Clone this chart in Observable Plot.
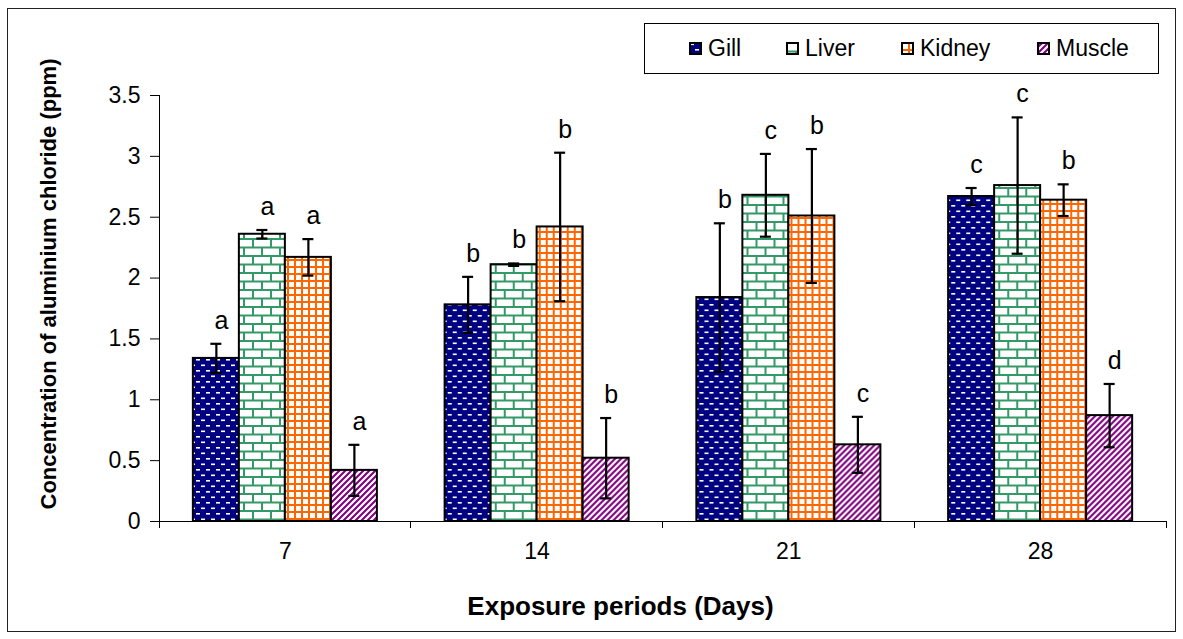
<!DOCTYPE html>
<html>
<head>
<meta charset="utf-8">
<script src="https://cdn.jsdelivr.net/npm/d3@7"></script>
<script src="https://cdn.jsdelivr.net/npm/@observablehq/plot@0.6"></script>
<style>
  body { margin: 0; background: #fff; font-family: Arial, "Liberation Sans", sans-serif; }
  #wrap { position: relative; width: 1183px; height: 639px; overflow: hidden; background: #fff; }
  #wrap svg.chart { position: absolute; left: 0; top: 0; }
  #border { position: absolute; left: 7px; top: 8px; width: 1169px; height: 624px; border: 1px solid #222; box-sizing: border-box; pointer-events: none; }
  #legend { position: absolute; left: 644px; top: 23px; width: 515px; height: 51px; border: 1px solid #000; box-sizing: border-box; background: #fff; }
  .item { position: absolute; top: 0; height: 49px; display: flex; align-items: center; font-size: 23px; color: #000; }
  .item svg { margin-right: 6px; }
</style>
</head>
<body>
<div id="wrap">
  <div id="border"></div>
  <div id="legend"></div>
</div>
<script>
// ---- data ----
const periods = ["7", "14", "21", "28"];
const organs = ["Gill", "Liver", "Kidney", "Muscle"];
const gillValues   = [1.34, 1.78, 1.84, 2.67];
const gillErrors   = [0.12, 0.23, 0.61, 0.07];
const gillLetters  = ["a", "b", "b", "c"];
const liverValues  = [2.36, 2.11, 2.68, 2.76];
const liverErrors  = [0.035, 0.01, 0.34, 0.56];
const liverLetters = ["a", "b", "c", "c"];
const kidneyValues  = [2.17, 2.42, 2.51, 2.64];
const kidneyErrors  = [0.15, 0.61, 0.55, 0.13];
const kidneyLetters = ["a", "b", "b", "b"];
const muscleValues  = [0.42, 0.52, 0.63, 0.87];
const muscleErrors  = [0.21, 0.33, 0.23, 0.26];
const muscleLetters = ["a", "b", "c", "d"];
const yTicks = [0, 0.5, 1, 1.5, 2, 2.5, 3, 3.5];
const yTitle = "Concentration of aluminium chloride (ppm)";
const xTitle = "Exposure periods (Days)";

const valueSets = [gillValues, liverValues, kidneyValues, muscleValues];
const errorSets = [gillErrors, liverErrors, kidneyErrors, muscleErrors];
const letterSets = [gillLetters, liverLetters, kidneyLetters, muscleLetters];

const rows = [];
periods.forEach((p, i) => {
  organs.forEach((o, j) => {
    rows.push({ period: p, organ: o, value: valueSets[j][i], err: errorSets[j][i], letter: letterSets[j][i] });
  });
});

const patternIds = organs.map(o => `url(#pat-${o})`);
const font = "Arial, 'Liberation Sans', sans-serif";

const chart = Plot.plot({
  width: 1183,
  height: 639,
  marginLeft: 159,
  marginRight: 17,
  marginTop: 95,
  marginBottom: 118,
  style: { fontFamily: font, background: "transparent", color: "#000", overflow: "visible" },
  fx: { domain: periods, padding: 0, round: false, label: null },
  x: { domain: organs, paddingInner: 0, paddingOuter: 0.736, round: false, axis: null },
  y: { domain: [0, 3.5], label: null },
  color: { type: "ordinal", domain: organs, range: patternIds },
  marks: [
    Plot.axisY(yTicks, { tickSize: 9, tickPadding: 10, fontSize: 23, tickFormat: d => String(d), label: null, stroke: "#000" }),
    Plot.axisFx({ anchor: "bottom", tickSize: 0, tickPadding: 21, fontSize: 23, label: null }),
    Plot.ruleY([0], { stroke: "#000", strokeWidth: 1 }),
    Plot.barY(rows, { fx: "period", x: "organ", y: "value", fill: "organ", stroke: "#000", strokeWidth: 2, inset: 0 }),
    Plot.ruleX(rows, { fx: "period", x: "organ", y1: d => d.value - d.err, y2: d => d.value + d.err, stroke: "#000", strokeWidth: 2.2 }),
    Plot.tickY(rows, { fx: "period", x: "organ", y: d => d.value + d.err, insetLeft: 17.5, insetRight: 17.5, stroke: "#000", strokeWidth: 2.2 }),
    Plot.tickY(rows, { fx: "period", x: "organ", y: d => d.value - d.err, insetLeft: 17.5, insetRight: 17.5, stroke: "#000", strokeWidth: 2.2 }),
    Plot.text(rows, { fx: "period", x: "organ", y: d => d.value + d.err, text: "letter", dx: 5, dy: -23, lineAnchor: "middle", fontSize: 25, fill: "#000" })
  ]
});
chart.classList.add("chart");
document.getElementById("wrap").insertBefore(chart, document.getElementById("border"));

// ---- patterns ----
const svg = d3.select(chart);
const defs = svg.insert("defs", ":first-child");
const pG = defs.append("pattern").attr("id", "pat-Gill").attr("patternUnits", "userSpaceOnUse").attr("width", 10).attr("height", 11);
pG.append("rect").attr("width", 10).attr("height", 11).attr("fill", "#000080");
pG.append("rect").attr("x", 1).attr("y", 1.5).attr("width", 4).attr("height", 1.6).attr("fill", "#fff");
pG.append("rect").attr("x", 6).attr("y", 7).attr("width", 4).attr("height", 1.6).attr("fill", "#fff");

const pL = defs.append("pattern").attr("id", "pat-Liver").attr("patternUnits", "userSpaceOnUse").attr("width", 18).attr("height", 17);
pL.append("rect").attr("width", 18).attr("height", 17).attr("fill", "#fff");
pL.append("path").attr("d", "M0,1H18M0,9.5H18M1,0V9.5M10,9.5V17").attr("stroke", "#339966").attr("stroke-width", 2).attr("fill", "none");

const pK = defs.append("pattern").attr("id", "pat-Kidney").attr("patternUnits", "userSpaceOnUse").attr("width", 7).attr("height", 7);
pK.append("rect").attr("width", 7).attr("height", 7).attr("fill", "#fff");
pK.append("rect").attr("width", 2).attr("height", 7).attr("fill", "#FF6600");
pK.append("rect").attr("width", 7).attr("height", 2).attr("fill", "#FF6600");

const pM = defs.append("pattern").attr("id", "pat-Muscle").attr("patternUnits", "userSpaceOnUse").attr("width", 6).attr("height", 6);
pM.append("rect").attr("width", 6).attr("height", 6).attr("fill", "#fff");
pM.append("path").attr("d", "M-1.5,1.5L1.5,-1.5M0,6L6,0M4.5,7.5L7.5,4.5").attr("stroke", "#800080").attr("stroke-width", 2.1);

// ---- axis lines & boundary ticks from scales ----
const fxS = chart.scale("fx");
const yS = chart.scale("y");
const y0 = yS.apply(0), yTop = yS.apply(3.5);
const left = fxS.apply(periods[0]);
const g = svg.append("g").attr("stroke", "#000").attr("stroke-width", 1).attr("shape-rendering", "crispEdges");
g.append("line").attr("x1", left).attr("x2", left).attr("y1", y0).attr("y2", yTop);
const bounds = periods.map(p => fxS.apply(p)).concat([fxS.apply(periods[periods.length - 1]) + fxS.bandwidth]);
bounds.forEach(b => g.append("line").attr("x1", b).attr("x2", b).attr("y1", y0).attr("y2", y0 + 7));

// ---- titles ----
const right = bounds[bounds.length - 1];
svg.append("text").text(yTitle)
  .attr("transform", `translate(48,${(y0 + yTop) / 2 - 24}) rotate(-90)`)
  .attr("text-anchor", "middle").attr("dy", "0.35em")
  .attr("font-size", 22).attr("font-weight", "bold").attr("font-family", font).attr("fill", "#000");
svg.append("text").text(xTitle)
  .attr("x", (left + right) / 2 - 42).attr("y", 615)
  .attr("text-anchor", "middle")
  .attr("font-size", 26).attr("font-weight", "bold").attr("font-family", font).attr("fill", "#000");

// ---- legend ----
const legendLeft = [44, 141, 256, 392];
const legend = d3.select("#legend");
organs.forEach((o, i) => {
  const it = legend.append("div").attr("class", "item").style("left", legendLeft[i] + "px");
  const s = it.append("svg").attr("width", 13).attr("height", 13);
  s.append("rect").attr("x", 1).attr("y", 1).attr("width", 11).attr("height", 11)
    .attr("fill", patternIds[i]).attr("stroke", "#000").attr("stroke-width", 2);
  it.append("span").text(o);
});
</script>
</body>
</html>
